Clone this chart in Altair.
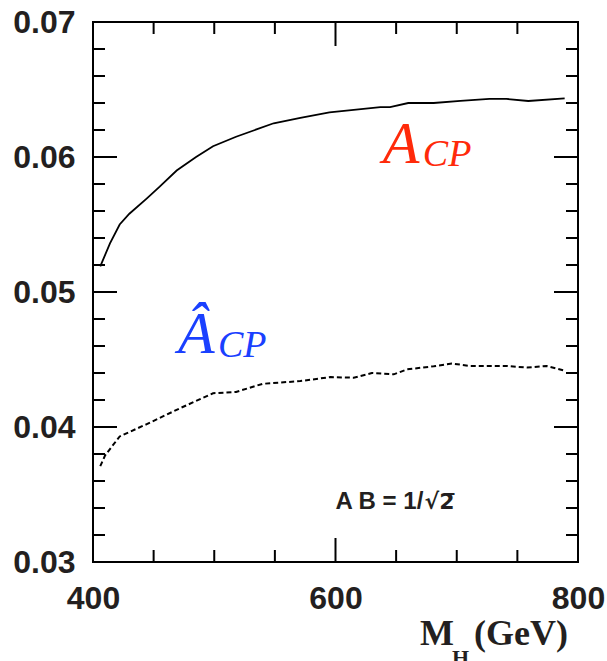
import altair as alt
import pandas as pd

# CP asymmetry versus Higgs mass
mass_acp = [406, 414, 422, 430, 444, 455, 469, 485, 499, 518, 549, 571, 595, 637,
            645, 660, 681, 703, 727, 741, 759, 789]
acp = [0.0519, 0.0536, 0.0550, 0.0558, 0.0569, 0.0578, 0.0590, 0.0600, 0.0608, 0.0615,
       0.0625, 0.0629, 0.0633, 0.0637, 0.0637, 0.0640, 0.0640, 0.06415, 0.0643, 0.0643,
       0.06415, 0.06435]

mass_ahat = [406, 410, 422, 444, 472, 499, 518, 540, 571, 596, 615, 630, 648, 659,
             681, 696, 711, 741, 758, 774, 788]
ahat = [0.0371, 0.0379, 0.0393, 0.0402, 0.0414, 0.0425, 0.0426, 0.0432, 0.0434, 0.0437,
        0.04365, 0.0440, 0.0439, 0.04427, 0.0445, 0.0447, 0.04452, 0.04452, 0.0444,
        0.04452, 0.0442]

y_major = [0.03, 0.04, 0.05, 0.06, 0.07]
y_minor = [0.032, 0.034, 0.036, 0.038, 0.042, 0.044, 0.046, 0.048, 0.052, 0.054,
           0.056, 0.058, 0.062, 0.064, 0.066, 0.068]
x_major = [400, 600, 800]
x_minor = [450, 500, 550, 650, 700, 750]

W, H = 485, 540
RED = "#ff2a0a"
BLUE = "#1a40ff"
INK = "#231f20"

xs = alt.Scale(domain=[400, 800], nice=False, zero=False)
ys = alt.Scale(domain=[0.03, 0.07], nice=False, zero=False)

x_axis = alt.Axis(values=x_major, format="d", title=None, ticks=False, domain=False,
                  grid=False, labelPadding=21, labelFlush=False, labelOverlap=False)
y_axis = alt.Axis(values=y_major, format=".2f", title=None, ticks=False, domain=False,
                  grid=False, labelPadding=18, labelFlush=False, labelOverlap=False)


def X(field):
    return alt.X(field, type="quantitative", scale=xs, axis=x_axis)


def Y(field):
    return alt.Y(field, type="quantitative", scale=ys, axis=y_axis)


df_acp = pd.DataFrame({"M": mass_acp, "A": acp})
df_ahat = pd.DataFrame({"M": mass_ahat, "A": ahat})

solid = alt.Chart(df_acp).mark_line(color="black", strokeWidth=1.8).encode(x=X("M"), y=Y("A"))
dashed = alt.Chart(df_ahat).mark_line(
    color="black", strokeWidth=2, strokeDash=[5, 3]
).encode(x=X("M"), y=Y("A"))


def yticks(values, length):
    base = alt.Chart(pd.DataFrame({"A": values})).mark_rule(color="black", strokeWidth=2)
    left = base.encode(y=Y("A"), x=alt.value(0), x2=alt.value(length))
    right = base.encode(y=Y("A"), x=alt.value(W - length), x2=alt.value(W))
    return [left, right]


def xticks(values, length):
    base = alt.Chart(pd.DataFrame({"M": values})).mark_rule(color="black", strokeWidth=2)
    bottom = base.encode(x=X("M"), y=alt.value(H - length), y2=alt.value(H))
    top = base.encode(x=X("M"), y=alt.value(0), y2=alt.value(length))
    return [bottom, top]


ticks = yticks(y_major, 24) + yticks(y_minor, 12) + xticks(x_major, 24) + xticks(x_minor, 12)


def label(text, m, v, size, color, font="Liberation Serif", style="italic", weight="normal"):
    return alt.Chart(pd.DataFrame({"M": [m], "A": [v]})).mark_text(
        text=text, font=font, fontStyle=style, fontWeight=weight, fontSize=size,
        color=color, align="left", baseline="alphabetic",
    ).encode(x=X("M"), y=Y("A"))


labels = [
    label("A", 639, 0.05955, 60, RED),
    label("CP", 672, 0.05932, 38, RED),
    label("Â", 470, 0.04548, 60, BLUE),
    label("CP", 503, 0.04521, 38, BLUE),
    label("A B = 1/", 600, 0.03393, 24, INK, font="Liberation Sans", style="normal", weight="bold"),
    label("√2̅", 673.5, 0.03393, 22, INK, font="DejaVu Sans", style="normal", weight="bold"),
]


def title_part(text, px, py, size):
    return alt.Chart().mark_text(
        text=text, font="Liberation Serif", fontWeight="bold", fontSize=size,
        color=INK, align="left", baseline="alphabetic",
    ).encode(x=alt.value(px), y=alt.value(py))


title = [
    title_part("M", 327, 623, 36),
    title_part("H", 359, 643, 22),
    title_part("(GeV)", 381, 623, 36),
]

chart = alt.layer(solid, dashed, *ticks, *labels, *title).properties(
    width=W, height=H,
    autosize=alt.AutoSizeParams(type="none"),
    padding={"left": 93, "top": 22, "right": 29, "bottom": 99},
).configure_view(
    stroke="black", strokeWidth=2,
).configure_axis(
    labelFont="Liberation Sans", labelFontWeight="bold", labelFontSize=32, labelColor=INK,
)

chart.save("out.html", embed_options={"renderer": "svg", "actions": False})
